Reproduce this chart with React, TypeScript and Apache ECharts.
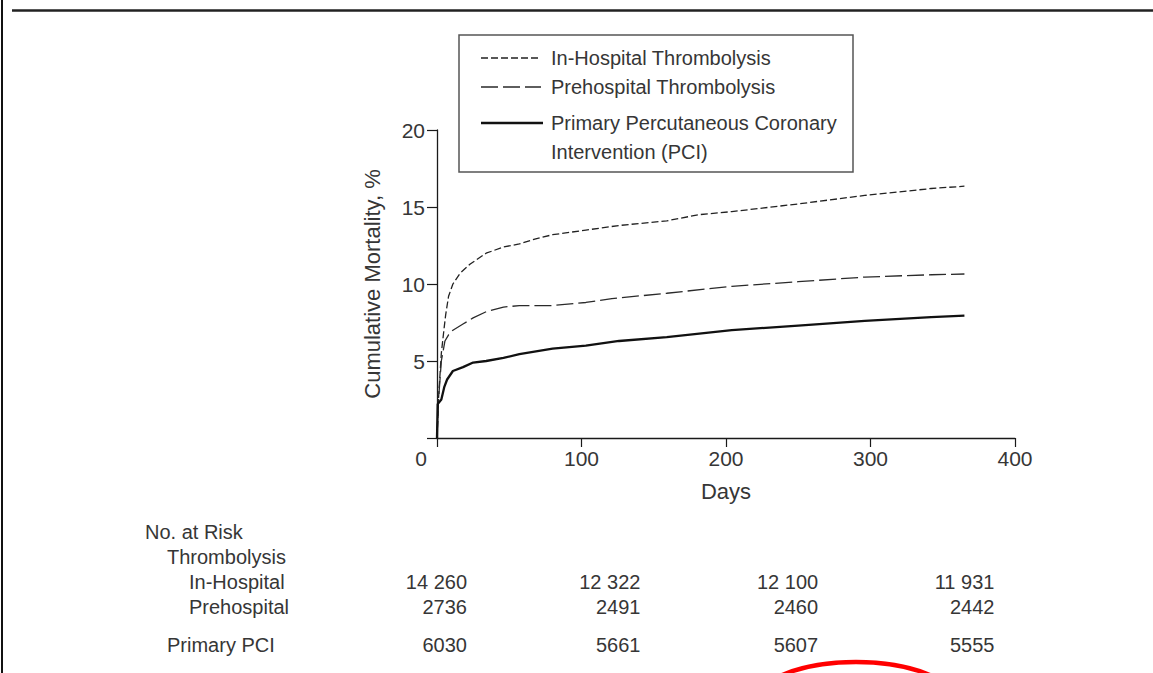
import React, { useEffect, useRef } from "react";
import * as echarts from "echarts";

// Cumulative mortality (%) by day after the index event
const inHospital: [number, number][] = [
  [0, 0], [1, 2.5], [3, 5.5], [5, 7.2], [6, 8.0], [8, 9.2], [11, 10.0], [16, 10.7],
  [23, 11.3], [34, 12.0], [46, 12.4], [57, 12.6], [69, 12.95], [80, 13.2], [103, 13.5],
  [126, 13.8], [159, 14.1], [181, 14.5], [204, 14.7], [250, 15.2], [296, 15.75],
  [342, 16.2], [365, 16.35],
];
const prehospital: [number, number][] = [
  [0, 0], [1, 2.4], [3, 5.0], [5.5, 6.3], [8, 6.7], [11, 7.0], [18, 7.4], [25, 7.8],
  [34, 8.2], [46, 8.5], [57, 8.6], [80, 8.6], [103, 8.8], [121, 9.05], [159, 9.4],
  [204, 9.85], [250, 10.15], [296, 10.45], [342, 10.6], [365, 10.65],
];
const primaryPCI: [number, number][] = [
  [0, 0], [0.5, 2.2], [3, 2.5], [5, 3.3], [7, 3.8], [11, 4.35], [18, 4.6], [25, 4.9],
  [34, 5.0], [46, 5.2], [57, 5.45], [80, 5.8], [103, 6.0], [126, 6.3], [159, 6.55],
  [204, 7.0], [250, 7.3], [296, 7.6], [342, 7.85], [365, 7.95],
];

// Number at risk table
const riskDays = [0, 120, 243, 365];
const riskInHospital = [14260, 12322, 12100, 11931];
const riskPrehospital = [2736, 2491, 2460, 2442];
const riskPCI = [6030, 5661, 5607, 5555];

const xTicks = [0, 100, 200, 300, 400];
const yTicks = [0, 5, 10, 15, 20];

const FONT = '"Liberation Sans", Arial, Helvetica, sans-serif';
const INK = "#363636";

const fmtCount = (n: number) =>
  n >= 10000 ? `${Math.floor(n / 1000)} ${String(n % 1000).padStart(3, "0")}` : String(n);

const txt = (text: string, x: number, y: number, align: string = "left") => ({
  type: "text",
  silent: true,
  style: {
    text,
    x,
    y,
    fill: INK,
    fontSize: 20,
    fontFamily: FONT,
    textAlign: align,
    textVerticalAlign: "middle",
  },
});

export default function App() {
  const ref = useRef<HTMLDivElement>(null);

  useEffect(() => {
    if (!ref.current) return;
    const chart = echarts.init(ref.current, undefined, { renderer: "svg" });

    chart.setOption({
      animation: false,
      backgroundColor: "#ffffff",
      grid: { left: 437, right: 138, top: 130, bottom: 235 },
      xAxis: {
        type: "value",
        min: xTicks[0],
        max: xTicks[xTicks.length - 1],
        interval: 100,
        name: "Days",
        nameLocation: "middle",
        nameGap: 42,
        nameTextStyle: { color: INK, fontSize: 22, fontFamily: FONT },
        axisLine: { lineStyle: { color: "#1a1a1a", width: 1.3 } },
        axisTick: { length: 9, lineStyle: { color: "#1a1a1a", width: 1.2 } },
        splitLine: { show: false },
        axisLabel: {
          margin: 10,
          color: INK,
          fontSize: 21,
          fontFamily: FONT,
          formatter: (v: number) => (v === 0 ? "{z|0}" : String(v)),
          rich: { z: { padding: [0, 32, 0, 0], fontSize: 21, fontFamily: FONT, color: INK } },
        },
      },
      yAxis: {
        type: "value",
        min: yTicks[0],
        max: yTicks[yTicks.length - 1],
        interval: 5,
        name: "Cumulative Mortality, %",
        nameLocation: "middle",
        nameGap: 54,
        nameTextStyle: { color: INK, fontSize: 22, fontFamily: FONT },
        axisLine: { show: true, lineStyle: { color: "#1a1a1a", width: 1.3 } },
        axisTick: { show: true, length: 10, lineStyle: { color: "#1a1a1a", width: 1.2 } },
        splitLine: { show: false },
        axisLabel: {
          margin: 12,
          color: INK,
          fontSize: 21,
          fontFamily: FONT,
          formatter: (v: number) => (v === 0 ? "" : String(v)),
        },
      },
      series: [
        {
          name: "In-Hospital Thrombolysis",
          type: "line",
          data: inHospital,
          showSymbol: false,
          lineStyle: { color: "#222", width: 1.3, type: [7, 3] },
        },
        {
          name: "Prehospital Thrombolysis",
          type: "line",
          data: prehospital,
          showSymbol: false,
          lineStyle: { color: "#2a2a2a", width: 1.3, type: [17, 5] },
        },
        {
          name: "Primary Percutaneous Coronary Intervention (PCI)",
          type: "line",
          data: primaryPCI,
          showSymbol: false,
          lineStyle: { color: "#111", width: 2.3 },
        },
      ],
    });

    const px = (d: number) => chart.convertToPixel({ xAxisIndex: 0 }, d) as number;
    const rows: [number[], number][] = [
      [riskInHospital, 582],
      [riskPrehospital, 607],
      [riskPCI, 645],
    ];
    const riskTexts: any[] = [];
    rows.forEach(([vals, y]) =>
      vals.forEach((v, i) => riskTexts.push(txt(fmtCount(v), px(riskDays[i]) + 30, y, "right")))
    );

    chart.setOption({
      graphic: [
        // page frame
        { type: "line", silent: true, shape: { x1: 2, y1: 0, x2: 2, y2: 673 }, style: { stroke: "#111", lineWidth: 2 } },
        { type: "line", silent: true, shape: { x1: 12, y1: 10.5, x2: 1153, y2: 10.5 }, style: { stroke: "#222", lineWidth: 2.5 } },
        // legend
        { type: "rect", silent: true, shape: { x: 459, y: 35, width: 394, height: 137 }, style: { fill: "none", stroke: "#555", lineWidth: 1.5 } },
        { type: "line", silent: true, shape: { x1: 481, y1: 58, x2: 541, y2: 58 }, style: { stroke: "#222", lineWidth: 1.3, lineDash: [7, 3] } },
        { type: "line", silent: true, shape: { x1: 481, y1: 87, x2: 541, y2: 87 }, style: { stroke: "#2a2a2a", lineWidth: 1.3, lineDash: [17, 5] } },
        { type: "line", silent: true, shape: { x1: 481, y1: 123, x2: 543, y2: 123 }, style: { stroke: "#111", lineWidth: 2.3 } },
        txt("In-Hospital Thrombolysis", 551, 58),
        txt("Prehospital Thrombolysis", 551, 87),
        txt("Primary Percutaneous Coronary", 551, 123),
        txt("Intervention (PCI)", 551, 152),
        // number at risk
        txt("No. at Risk", 145, 532),
        txt("Thrombolysis", 167, 557),
        txt("In-Hospital", 189, 582),
        txt("Prehospital", 189, 607),
        txt("Primary PCI", 167, 645),
        ...riskTexts,
        // red annotation ring
        { type: "ellipse", silent: true, shape: { cx: 856, cy: 702, rx: 100, ry: 40 }, style: { fill: "none", stroke: "#ff0000", lineWidth: 4.5 } },
      ],
    });

    return () => chart.dispose();
  }, []);

  return (
    <div
      ref={ref}
      style={{ position: "absolute", left: 0, top: 0, width: 1153, height: 673, background: "#fff" }}
    />
  );
}
